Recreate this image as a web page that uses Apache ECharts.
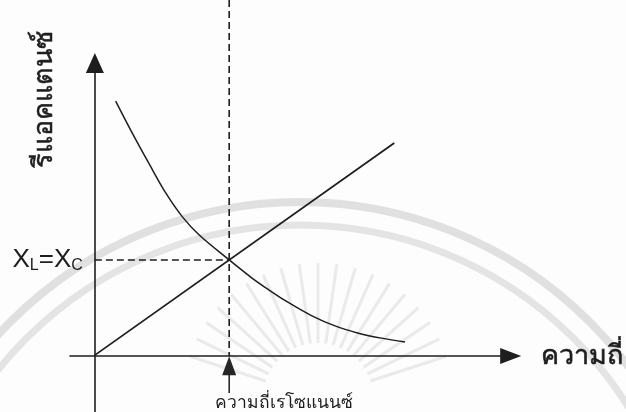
<!DOCTYPE html>
<html>
<head>
<meta charset="utf-8">
<script src="https://cdn.jsdelivr.net/npm/echarts@6/dist/echarts.min.js"></script>
<style>
  html, body { margin: 0; padding: 0; background: #fdfdfd; }
  #chart { width: 626px; height: 412px; }
</style>
</head>
<body>
<div id="chart"></div>
<script>
// Reactance versus frequency for a series RLC circuit
const resonanceFreq = 3.23;
const resonanceReactance = 3.28;

// Inductive reactance X_L (straight line through the origin)
const inductiveFreq = [0, 7.20];
const inductiveReact = [0.03, 7.27];

// Capacitive reactance X_C (falls off with frequency)
const capacitiveFreq  = [0.50, 0.91, 1.32, 1.72, 2.11, 2.51, 3.23, 3.78, 4.19, 4.59, 5.22, 5.79, 6.34, 6.89, 7.46];
const capacitiveReact = [8.70, 7.58, 6.52, 5.53, 4.74, 4.13, 3.28, 2.66, 2.25, 1.88, 1.37, 1.02, 0.78, 0.61, 0.48];

const xAxisName = 'ความถี่';
const yAxisName = 'รีแอคแตนซ์';
const resonanceName = 'ความถี่เรโซแนนซ์';

const ink = '#1e1e1e';
const thaiFont = '"Noto Sans", "Noto Sans CJK SC", "DejaVu Sans", sans-serif';
const latinFont = '"Liberation Sans", Arial, sans-serif';

const zip = (xs, ys) => xs.map((x, i) => [x, ys[i]]);

// faint seal in the background: two arcs and a fan of rays
const seal = [
  { type: 'arc', shape: { cx: 300, cy: 612, r: 410, startAngle: Math.PI, endAngle: 2 * Math.PI },
    style: { stroke: '#e0e0e0', lineWidth: 8, fill: null }, silent: true, z: -10 },
  { type: 'arc', shape: { cx: 300, cy: 612, r: 387, startAngle: Math.PI, endAngle: 2 * Math.PI },
    style: { stroke: '#e4e4e4', lineWidth: 7, fill: null }, silent: true, z: -10 }
];
for (let a = 18; a <= 162; a += 8) {
  const t = a * Math.PI / 180;
  const cx = 318, cy = 398;
  seal.push({
    type: 'line',
    shape: { x1: cx + Math.cos(t) * 55, y1: cy - Math.sin(t) * 55,
             x2: cx + Math.cos(t) * 135, y2: cy - Math.sin(t) * 135 },
    style: { stroke: '#eaeaea', lineWidth: 3 }, silent: true, z: -10
  });
}

const chart = echarts.init(document.getElementById('chart'), null, { renderer: 'canvas' });

chart.setOption({
  backgroundColor: '#fdfdfd',
  animation: false,
  grid: { left: 70, right: 113, top: 63, bottom: 0, containLabel: false },
  xAxis: {
    type: 'value', min: -0.598, max: 10,
    axisLine: { onZero: true, symbol: ['none', 'triangle'], symbolSize: [16, 21],
                lineStyle: { color: ink, width: 1.6 } },
    axisTick: { show: false }, axisLabel: { show: false }, splitLine: { show: false },
    name: xAxisName, nameLocation: 'end', nameGap: 30,
    nameTextStyle: { color: ink, fontSize: 27, fontFamily: thaiFont,
                     textBorderColor: ink, textBorderWidth: 0.6,
                     align: 'left', verticalAlign: 'middle', padding: [0, 0, 4, 0] }
  },
  yAxis: {
    type: 'value', min: -1.911, max: 10,
    axisLine: { onZero: true, symbol: ['none', 'triangle'], symbolSize: [18, 20],
                lineStyle: { color: ink, width: 1.6 } },
    axisTick: { show: false }, axisLabel: { show: false }, splitLine: { show: false }
  },
  graphic: seal.concat([
    { type: 'text', x: 44, y: 99, rotation: Math.PI / 2,
      style: { text: yAxisName, fill: ink, stroke: ink, lineWidth: 0.5,
               font: '27px ' + thaiFont, align: 'center', verticalAlign: 'middle' } }
  ]),
  series: [
    {
      name: 'XL', type: 'line', data: zip(inductiveFreq, inductiveReact),
      symbol: 'none', lineStyle: { color: ink, width: 1.8 }, z: 5
    },
    {
      name: 'XC', type: 'line', data: zip(capacitiveFreq, capacitiveReact),
      smooth: 0.35, symbol: 'none', lineStyle: { color: ink, width: 1.5 }, z: 5
    },
    {
      // vertical guide at the resonant frequency
      name: 'resonance', type: 'line', clip: false,
      data: [[resonanceFreq, 12.15], [resonanceFreq, 0]],
      symbol: 'none', lineStyle: { color: ink, width: 1.6, type: [7, 4] }, z: 3
    },
    {
      // horizontal guide where X_L = X_C
      name: 'equal', type: 'line',
      symbol: 'circle', symbolSize: 0.1, showSymbol: true,
      data: [
        { value: [0, resonanceReactance],
          label: { show: true, position: 'left', distance: 12, color: ink,
                   formatter: '{b|X}{s|L}{b|=X}{s|C}',
                   rich: { s: { fontSize: 16, fontFamily: latinFont, color: ink, padding: [12, 0, 0, 0] },
                           b: { fontSize: 26, fontFamily: latinFont, color: ink } } } },
        [resonanceFreq, resonanceReactance]
      ],
      lineStyle: { color: ink, width: 1.5, type: [7, 4] }, itemStyle: { color: ink }, z: 3
    },
    {
      // pointer to the resonant frequency under the axis
      name: 'pointerStem', type: 'line', clip: false,
      symbol: 'circle', symbolSize: 0.1, showSymbol: true,
      data: [
        [resonanceFreq, -0.35],
        { value: [resonanceFreq, -1.26],
          label: { show: true, position: 'bottom', distance: 1, offset: [55, 0],
                   formatter: resonanceName, color: ink, fontSize: 17.5, fontFamily: thaiFont } }
      ],
      lineStyle: { color: ink, width: 1.5 }, itemStyle: { color: ink }, z: 4
    },
    {
      name: 'pointerHead', type: 'scatter', clip: false,
      data: [[resonanceFreq, -0.33]],
      symbol: 'triangle', symbolSize: [14, 19],
      itemStyle: { color: '#262626', opacity: 1 }, z: 6
    }
  ]
});
</script>
</body>
</html>
